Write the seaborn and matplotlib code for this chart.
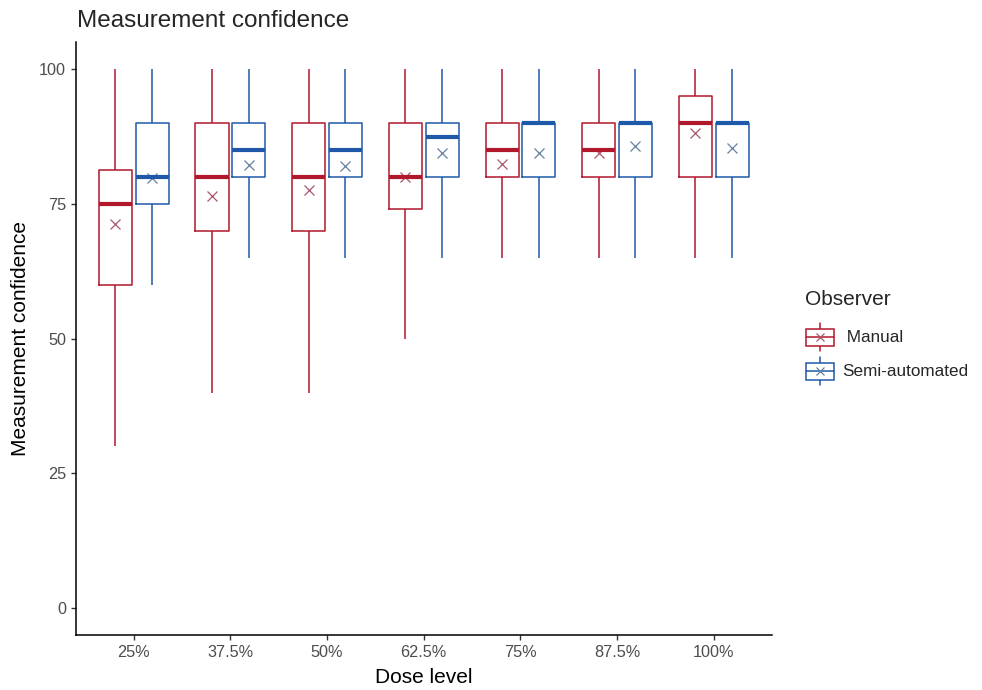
import numpy as np
import pandas as pd
import matplotlib
matplotlib.use("Agg")
import matplotlib.pyplot as plt
from matplotlib.lines import Line2D
from matplotlib.patches import Rectangle
from matplotlib.legend_handler import HandlerBase
import seaborn as sns

doses = ['25%', '37.5%', '50%', '62.5%', '75%', '87.5%', '100%']
observers = ['Manual', 'Semi-automated']

# five-number summaries
manual_min = [30, 40, 40, 50, 65, 65, 65]
manual_q1 = [60, 70, 70, 74, 80, 80, 80]
manual_med = [75, 80, 80, 80, 85, 85, 90]
manual_q3 = [81.3, 90, 90, 90, 90, 90, 95]
manual_max = [100, 100, 100, 100, 100, 100, 100]
manual_mean = [71.2, 76.5, 77.6, 80.0, 82.4, 84.4, 88.2]

semi_min = [60, 65, 65, 65, 65, 65, 65]
semi_q1 = [75, 80, 80, 80, 80, 80, 80]
semi_med = [80, 85, 85, 87.5, 90, 90, 90]
semi_q3 = [90, 90, 90, 90, 90, 90, 90]
semi_max = [100, 100, 100, 100, 100, 100, 100]
semi_mean = [79.8, 82.3, 82.1, 84.5, 84.4, 85.7, 85.4]

red = '#B2182B'
blue = '#1F58A8'
red_x = '#A8586B'
blue_x = '#62809F'


def build_frames():
    rows = []
    means = []
    stats = {
        'Manual': (manual_min, manual_q1, manual_med, manual_q3, manual_max, manual_mean),
        'Semi-automated': (semi_min, semi_q1, semi_med, semi_q3, semi_max, semi_mean),
    }
    for obs, (lo, q1, med, q3, hi, mean) in stats.items():
        for i, dose in enumerate(doses):
            # 5 points -> quartiles land exactly on q1 / median / q3
            for v in (lo[i], q1[i], med[i], q3[i], hi[i]):
                rows.append({'dose': dose, 'observer': obs, 'score': v})
            means.append({'dose': dose, 'observer': obs, 'mean': mean[i]})
    return pd.DataFrame(rows), pd.DataFrame(means)


class BoxHandler(HandlerBase):
    def create_artists(self, legend, orig_handle, xdescent, ydescent,
                       width, height, fontsize, trans):
        c = orig_handle.get_color()
        x0, y0 = -xdescent, -ydescent
        cx = x0 + width / 2
        cy = y0 + height / 2
        box = Rectangle((x0, y0 + height * 0.25), width, height * 0.5,
                        facecolor='white', edgecolor=c, lw=1.1, transform=trans)
        wl = Line2D([cx, cx], [y0 + height * 0.1, y0 + height * 0.25], color=c, lw=1.1, transform=trans)
        wh = Line2D([cx, cx], [y0 + height * 0.75, y0 + height * 0.9], color=c, lw=1.1, transform=trans)
        md = Line2D([x0, x0 + width], [cy, cy], color=c, lw=1.1, transform=trans)
        mk = Line2D([cx], [cy], marker='x', ms=6, mew=0.9,
                    color=orig_handle.get_markerfacecolor(), transform=trans)
        return [wl, wh, box, md, mk]


def plot_data(df, mean_df):
    fig = plt.figure(figsize=(9.82, 6.9), dpi=100)
    ax = fig.add_axes([0.0771, 0.0797, 0.7088, 0.859])

    sns.boxplot(data=df, x='dose', y='score', hue='observer', order=doses,
                hue_order=observers, palette=[red, blue], fill=False,
                whis=np.inf, width=0.76, gap=0.1, linewidth=1.1,
                showcaps=False, medianprops=dict(linewidth=3),
                legend=False, ax=ax)
    sns.pointplot(data=mean_df, x='dose', y='mean', hue='observer', order=doses,
                  hue_order=observers, palette=[red_x, blue_x], dodge=0.38,
                  markers='x', linestyle='none', errorbar=None,
                  markersize=7, markeredgewidth=0.9, legend=False, ax=ax)

    ax.set_xlim(-0.6, 6.6)
    ax.set_ylim(-5, 105)
    ax.set_yticks([0, 25, 50, 75, 100])
    sns.despine(ax=ax)
    for s in ('left', 'bottom'):
        ax.spines[s].set_color('black')
        ax.spines[s].set_linewidth(1.1)
    ax.tick_params(axis='both', length=3.5, width=1, color='#333333',
                   labelsize=11.7, labelcolor='#4D4D4D', pad=3.5)

    ax.set_xlabel('Dose level', fontsize=15, color='black')
    ax.set_ylabel('Measurement confidence', fontsize=15, color='black')
    ax.xaxis.set_label_coords(0.5, -0.056)
    ax.yaxis.set_label_coords(-0.066, 0.5)

    fig.text(0.078, 1 - 27 / 690, 'Measurement confidence', fontsize=17.5,
             ha='left', va='baseline')

    # legend title drawn separately so the gap to the keys matches
    fig.text(805 / 982, 1 - 300 / 690, 'Observer', fontsize=15,
             ha='left', va='center')
    handles = [Line2D([], [], color=red, markerfacecolor=red_x),
               Line2D([], [], color=blue, markerfacecolor=blue_x)]
    fig.legend(handles, [' Manual', 'Semi-automated'],
               handler_map={Line2D: BoxHandler()}, loc='upper left',
               bbox_to_anchor=(806 / 982, 1 - 320 / 690), frameon=False,
               borderpad=0, borderaxespad=0, handlelength=1.65,
               handleheight=2.69, labelspacing=0.0, handletextpad=0.45,
               fontsize=12.3)

    fig.savefig('out.png', dpi=100)


if __name__ == "__main__":
    sns.set_theme(style='ticks')
    plt.rcParams['font.family'] = ['Liberation Sans', 'DejaVu Sans']
    df, mean_df = build_frames()
    plot_data(df, mean_df)
